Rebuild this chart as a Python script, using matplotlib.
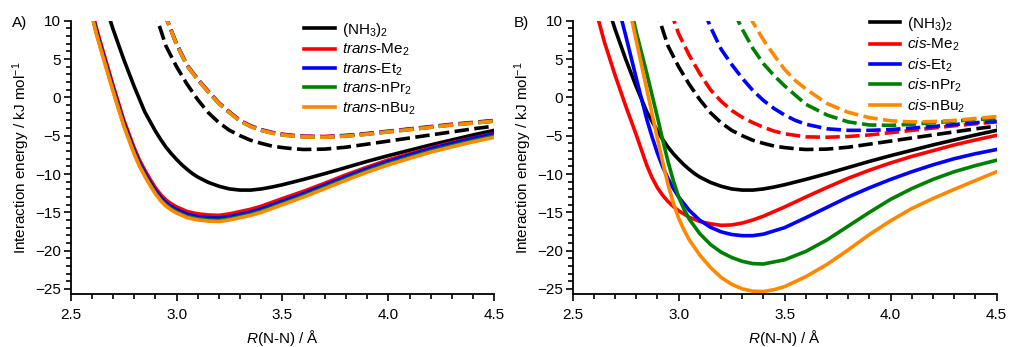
import matplotlib
matplotlib.use("Agg")
import matplotlib.pyplot as plt
from matplotlib.ticker import MultipleLocator, FormatStrFormatter

plt.rcParams["font.family"] = ["Liberation Sans", "DejaVu Sans"]
plt.rcParams["mathtext.fontset"] = "custom"
plt.rcParams["mathtext.rm"] = "Liberation Sans"
plt.rcParams["mathtext.it"] = "Liberation Sans:italic"
plt.rcParams["mathtext.bf"] = "Liberation Sans:bold"

# --- (NH3)2 reference, same in both panels ---
nh3_x = [2.67, 2.70, 2.75, 2.80, 2.85, 2.90, 2.925, 2.95, 2.975, 3.00, 3.025, 3.05, 3.075, 3.10,
         3.15, 3.20, 3.25, 3.30, 3.35, 3.40, 3.45, 3.50, 3.55, 3.60, 3.70, 3.80, 3.90, 4.00,
         4.10, 4.20, 4.30, 4.40, 4.50]
nh3_y = [11.5, 8.9, 5.0, 1.4, -1.9, -4.4, -5.5, -6.5, -7.35, -8.1, -8.8, -9.4, -9.95, -10.4,
         -11.1, -11.6, -11.95, -12.1, -12.1, -11.95, -11.7, -11.4, -11.05, -10.7, -9.95, -9.15, -8.35, -7.6,
         -6.9, -6.2, -5.55, -4.9, -4.3]
nh3_dash_x = [2.89, 2.90, 2.95, 3.00, 3.05, 3.10, 3.15, 3.20, 3.25, 3.30, 3.35, 3.40, 3.45,
              3.50, 3.55, 3.60, 3.70, 3.80, 3.90, 4.00, 4.10, 4.20, 4.30, 4.40, 4.50]
nh3_dash_y = [11.8, 10.9, 6.7, 4.0, 1.7, -0.3, -2.0, -3.3, -4.3, -5.0, -5.6, -6.0, -6.35,
              -6.55, -6.7, -6.8, -6.75, -6.5, -6.1, -5.7, -5.3, -4.9, -4.5, -4.1, -3.75]

# --- panel A: trans dimers ---
trans_x = [2.59, 2.62, 2.65, 2.70, 2.75, 2.80, 2.825, 2.85, 2.875, 2.90, 2.925, 2.95, 2.975, 3.00,
           3.05, 3.10, 3.15, 3.20, 3.25, 3.30, 3.35, 3.40, 3.50, 3.60, 3.70, 3.80, 3.90, 4.00,
           4.10, 4.20, 4.30, 4.40, 4.50]
trans_me = [12.6, 9.2, 6.3, 1.6, -2.9, -6.6, -8.2, -9.5, -10.7, -11.8, -12.7, -13.4, -13.9, -14.3,
            -14.9, -15.2, -15.35, -15.4, -15.2, -14.9, -14.6, -14.2, -13.2, -12.25, -11.2, -10.1, -9.1, -8.15,
            -7.35, -6.6, -5.9, -5.3, -4.7]
trans_et = [12.25, 8.85, 5.95, 1.25, -3.25, -6.95, -8.55, -9.85, -11.05, -12.15, -13.05, -13.75, -14.25, -14.65,
            -15.25, -15.55, -15.7, -15.75, -15.55, -15.25, -14.95, -14.55, -13.55, -12.55, -11.45, -10.35, -9.3, -8.35,
            -7.5, -6.7, -6.0, -5.35, -4.75]
trans_pr = [11.95, 8.55, 5.65, 0.95, -3.55, -7.25, -8.85, -10.15, -11.35, -12.45, -13.35, -14.05, -14.55, -14.95,
            -15.55, -15.85, -16.0, -16.05, -15.85, -15.55, -15.25, -14.85, -13.85, -12.85, -11.75, -10.65, -9.6, -8.65,
            -7.8, -7.0, -6.3, -5.65, -5.05]
trans_bu = [11.8, 8.4, 5.5, 0.8, -3.7, -7.4, -9.0, -10.3, -11.5, -12.6, -13.5, -14.2, -14.7, -15.1,
            -15.7, -16.0, -16.15, -16.2, -16.0, -15.7, -15.4, -15.0, -14.0, -13.0, -11.9, -10.8, -9.75, -8.8,
            -7.95, -7.15, -6.45, -5.8, -5.2]
trans_dash_x = [2.94, 2.95, 3.00, 3.05, 3.10, 3.15, 3.20, 3.25, 3.30, 3.35, 3.40, 3.45, 3.50,
                3.55, 3.60, 3.70, 3.80, 3.90, 4.00, 4.10, 4.20, 4.30, 4.40, 4.50]
trans_me_dash = [11.3, 10.5, 7.0, 4.2, 2.4, 0.8, -0.7, -1.9, -3.0, -3.7, -4.2, -4.55, -4.8,
                 -4.95, -5.05, -5.1, -4.95, -4.7, -4.4, -4.1, -3.8, -3.5, -3.25, -3.0]
trans_et_dash = [11.25, 10.45, 6.95, 4.15, 2.35, 0.75, -0.75, -1.95, -3.05, -3.75, -4.25, -4.6, -4.85,
                 -5.0, -5.1, -5.15, -5.0, -4.75, -4.45, -4.15, -3.85, -3.55, -3.3, -3.05]
trans_pr_dash = [11.2, 10.4, 6.9, 4.1, 2.3, 0.7, -0.8, -2.0, -3.1, -3.8, -4.3, -4.65, -4.9,
                 -5.05, -5.15, -5.2, -5.05, -4.8, -4.5, -4.2, -3.9, -3.6, -3.35, -3.1]
trans_bu_dash = [11.2, 10.4, 6.9, 4.1, 2.3, 0.7, -0.8, -2.0, -3.1, -3.8, -4.3, -4.65, -4.9,
                 -5.05, -5.15, -5.2, -5.05, -4.8, -4.5, -4.2, -3.9, -3.6, -3.35, -3.1]

# --- panel B: cis dimers ---
cis_me_x = [2.60, 2.65, 2.70, 2.75, 2.80, 2.825, 2.85, 2.875, 2.90, 2.925, 2.95, 2.975, 3.00, 3.05,
            3.10, 3.15, 3.20, 3.25, 3.30, 3.35, 3.40, 3.50, 3.60, 3.70, 3.80, 3.90, 4.00, 4.10,
            4.20, 4.30, 4.40, 4.50]
cis_me = [12.3, 7.2, 2.9, -1.1, -4.9, -6.9, -8.9, -10.5, -11.8, -12.8, -13.6, -14.25, -14.8, -15.65,
          -16.2, -16.5, -16.7, -16.65, -16.4, -16.0, -15.5, -14.3, -13.0, -11.75, -10.55, -9.5, -8.55, -7.7,
          -6.95, -6.2, -5.55, -4.95]
cis_et_x = [2.70, 2.75, 2.80, 2.85, 2.875, 2.90, 2.925, 2.95, 2.975, 3.00, 3.05, 3.10, 3.15, 3.20,
            3.25, 3.30, 3.35, 3.40, 3.50, 3.60, 3.70, 3.80, 3.90, 4.00, 4.10, 4.20, 4.30, 4.40, 4.50]
cis_et = [13.5, 8.1, 2.5, -2.9, -5.2, -7.3, -9.1, -10.6, -11.9, -13.0, -14.75, -16.05, -16.95, -17.55,
          -17.9, -18.05, -18.05, -17.85, -17.0, -15.7, -14.35, -13.0, -11.8, -10.7, -9.7, -8.8, -8.0, -7.35, -6.8]
cis_pr_x = [2.78, 2.80, 2.85, 2.90, 2.925, 2.95, 2.975, 3.00, 3.025, 3.05, 3.10, 3.15, 3.20, 3.25,
            3.30, 3.35, 3.40, 3.50, 3.60, 3.70, 3.80, 3.90, 4.00, 4.10, 4.20, 4.30, 4.40, 4.50]
cis_pr = [11.0, 8.5, 3.1, -2.6, -5.6, -8.4, -10.9, -13.0, -14.6, -15.9, -17.8, -19.2, -20.2, -20.9,
          -21.4, -21.7, -21.75, -21.2, -20.1, -18.6, -16.8, -15.0, -13.3, -11.9, -10.7, -9.7, -8.9, -8.2]
cis_bu_x = [2.77, 2.80, 2.85, 2.90, 2.925, 2.95, 2.975, 3.00, 3.025, 3.05, 3.10, 3.15, 3.20, 3.25,
            3.30, 3.35, 3.40, 3.45, 3.50, 3.60, 3.70, 3.80, 3.90, 4.00, 4.10, 4.20, 4.30, 4.40, 4.50]
cis_bu = [11.3, 7.4, 1.0, -5.4, -8.5, -11.4, -13.8, -15.8, -17.3, -18.6, -20.6, -22.2, -23.5, -24.4,
          -25.0, -25.3, -25.35, -25.1, -24.7, -23.4, -21.8, -19.9, -17.9, -16.1, -14.5, -13.2, -12.0, -10.85, -9.7]

cis_me_dash_x = [2.96, 3.00, 3.05, 3.10, 3.15, 3.20, 3.25, 3.30, 3.35, 3.40, 3.45, 3.50, 3.60,
                 3.70, 3.80, 3.90, 4.00, 4.10, 4.20, 4.30, 4.40, 4.50]
cis_me_dash = [11.4, 8.3, 5.5, 3.1, 1.0, -0.5, -1.7, -2.6, -3.3, -3.9, -4.4, -4.75, -5.15,
               -5.2, -5.1, -4.9, -4.6, -4.3, -4.0, -3.7, -3.45, -3.2]
cis_et_dash_x = [3.12, 3.15, 3.20, 3.25, 3.30, 3.35, 3.40, 3.45, 3.50, 3.55, 3.60, 3.70, 3.80,
                 3.90, 4.00, 4.10, 4.20, 4.30, 4.40, 4.50]
cis_et_dash = [11.3, 9.2, 6.3, 4.3, 2.5, 0.9, -0.4, -1.45, -2.3, -3.0, -3.5, -4.1, -4.3,
               -4.3, -4.2, -4.0, -3.8, -3.55, -3.3, -3.1]
cis_pr_dash_x = [3.26, 3.30, 3.35, 3.40, 3.45, 3.50, 3.55, 3.60, 3.70, 3.80, 3.90, 4.00, 4.10,
                 4.20, 4.30, 4.40, 4.50]
cis_pr_dash = [11.2, 8.9, 6.4, 4.4, 2.85, 1.5, 0.3, -0.9, -2.3, -3.2, -3.6, -3.65, -3.5,
               -3.3, -3.1, -2.9, -2.75]
cis_bu_dash_x = [3.33, 3.35, 3.40, 3.45, 3.50, 3.55, 3.60, 3.70, 3.80, 3.90, 4.00, 4.10, 4.20,
                 4.30, 4.40, 4.50]
cis_bu_dash = [10.8, 9.8, 7.5, 5.5, 3.65, 2.2, 1.1, -0.8, -1.95, -2.65, -3.05, -3.2, -3.15,
               -3.0, -2.75, -2.5]

colors = ["black", "#ff0000", "#0000ff", "#008000", "#ff8800"]
trans_labels = ["(NH$_3$)$_2$", "$\\mathit{trans}$-Me$_2$", "$\\mathit{trans}$-Et$_2$",
                "$\\mathit{trans}$-nPr$_2$", "$\\mathit{trans}$-nBu$_2$"]
cis_labels = ["(NH$_3$)$_2$", "$\\mathit{cis}$-Me$_2$", "$\\mathit{cis}$-Et$_2$",
              "$\\mathit{cis}$-nPr$_2$", "$\\mathit{cis}$-nBu$_2$"]

LW = 2.6
DASH = (4.0, 1.5)
FS = 11

fig = plt.figure(figsize=(10.10, 3.47), dpi=100)
axA = fig.add_axes([0.070, 0.152, 0.4194, 0.788])
axB = fig.add_axes([0.567, 0.152, 0.4198, 0.788])

solidA = [(nh3_x, nh3_y), (trans_x, trans_me), (trans_x, trans_et), (trans_x, trans_pr), (trans_x, trans_bu)]
dashA = [(nh3_dash_x, nh3_dash_y), (trans_dash_x, trans_me_dash), (trans_dash_x, trans_et_dash),
         (trans_dash_x, trans_pr_dash), (trans_dash_x, trans_bu_dash)]
solidB = [(nh3_x, nh3_y), (cis_me_x, cis_me), (cis_et_x, cis_et), (cis_pr_x, cis_pr), (cis_bu_x, cis_bu)]
dashB = [(nh3_dash_x, nh3_dash_y), (cis_me_dash_x, cis_me_dash), (cis_et_dash_x, cis_et_dash),
         (cis_pr_dash_x, cis_pr_dash), (cis_bu_dash_x, cis_bu_dash)]

panels = [(axA, solidA, dashA, trans_labels, (0.551, 1.0)),
          (axB, solidB, dashB, cis_labels, (0.701, 1.022))]

for ax, solids, dashes, labels, anchor in panels:
    for (x, y), c in zip(dashes, colors):
        ax.plot(x, y, color=c, lw=LW, dashes=DASH, dash_capstyle="butt")
    handles = []
    for (x, y), c, lab in zip(solids, colors, labels):
        h, = ax.plot(x, y, color=c, lw=LW, label=lab)
        handles.append(h)

    ax.set_xlim(2.5, 4.5)
    ax.set_ylim(-25.7, 10)
    ax.spines["top"].set_visible(False)
    ax.spines["right"].set_visible(False)
    ax.spines["left"].set_linewidth(1.3)
    ax.spines["bottom"].set_linewidth(1.3)
    ax.set_yticks([10, 5, 0, -5, -10, -15, -20, -25])
    ax.xaxis.set_major_locator(MultipleLocator(0.5))
    ax.xaxis.set_minor_locator(MultipleLocator(0.1))
    ax.yaxis.set_minor_locator(MultipleLocator(1))
    ax.xaxis.set_major_formatter(FormatStrFormatter("%.1f"))
    ax.tick_params(which="major", length=5, width=1.2, labelsize=FS, pad=2)
    ax.tick_params(axis="x", which="major", pad=5)
    ax.tick_params(which="minor", length=3.5, width=1.2)
    ax.set_ylabel("Interaction energy / kJ mol$^{-1}$", fontsize=FS, labelpad=2)
    ax.set_xlabel("$R$(N-N) / Å", fontsize=FS, labelpad=4)

    ax.legend(handles=handles, loc="upper left", bbox_to_anchor=anchor, frameon=False,
              fontsize=FS, handlelength=2.0, handletextpad=0.45, labelspacing=0.2,
              borderaxespad=0, borderpad=0)

fig.text(0.012, 0.935, "A)", fontsize=FS, va="center")
fig.text(0.509, 0.935, "B)", fontsize=FS, va="center")

fig.savefig("out.png", dpi=100)
